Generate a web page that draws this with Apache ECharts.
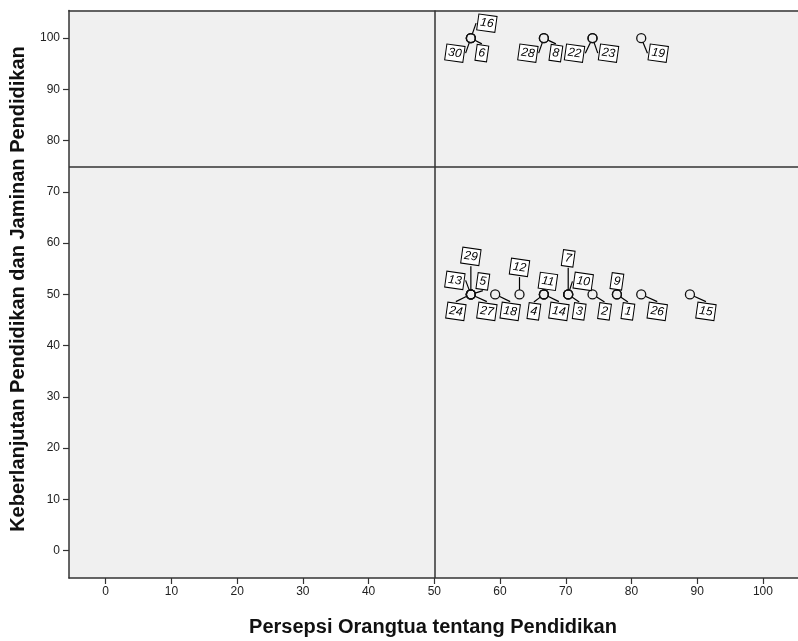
<!DOCTYPE html>
<html>
<head>
<meta charset="utf-8">
<script src="https://cdn.jsdelivr.net/npm/echarts@6/dist/echarts.min.js"></script>
<style>html,body{margin:0;padding:0;background:#fff}#c{width:798px;height:641px}</style>
</head>
<body>
<div id="c"></div>
<script>
// ---- data ----
var caseIds = [16, 30, 6, 28, 8, 22, 23, 19, 29, 13, 5, 24, 27, 18, 12, 11, 4, 14, 7, 10, 3, 2, 9, 1, 26, 15];
var persepsi = [55.56, 55.56, 55.56, 66.67, 66.67, 74.07, 74.07, 81.48,
                55.56, 55.56, 55.56, 55.56, 55.56, 59.26, 62.96, 66.67, 66.67, 66.67,
                70.37, 70.37, 70.37, 74.07, 77.78, 77.78, 81.48, 88.89];
var keberlanjutan = [100, 100, 100, 100, 100, 100, 100, 100,
                     50, 50, 50, 50, 50, 50, 50, 50, 50, 50,
                     50, 50, 50, 50, 50, 50, 50, 50];
var xTicks = [0, 10, 20, 30, 40, 50, 60, 70, 80, 90, 100];
var yTicks = [0, 10, 20, 30, 40, 50, 60, 70, 80, 90, 100];
var refLineX = [50];
var refLineY = [75];
var xTitle = 'Persepsi Orangtua tentang Pendidikan';
var yTitle = 'Keberlanjutan Pendidikan dan Jaminan Pendidikan';

// ---- label layout (pixel offsets of case labels from their point) ----
var labelDx = [16, -16, 11, -16, 12, -18, 16, 17,
               0, -16, 12, -15, 16, 15, 0, 4, -10, 15,
               0, 15, 11, 12, 0, 11, 16, 16];
var labelDy = [-15, 15, 15, 15, 15, 15, 15, 15,
               -38, -14, -13, 17, 17, 17, -27, -13, 17, 17,
               -36, -13, 17, 17, -13, 17, 17, 17];

var font = "'Liberation Sans', Arial, sans-serif";
var points = caseIds.map(function (id, i) {
  return { value: [persepsi[i], keberlanjutan[i]], name: String(id) };
});

var axisCol = '#333333';
var chart = echarts.init(document.getElementById('c'), null, { renderer: 'canvas' });
chart.setOption({
  backgroundColor: '#ffffff',
  animation: false,
  grid: {
    left: 69, top: 10.5, width: 733, height: 567.5,
    outerBoundsMode: 'none', containLabel: false,
    show: true, backgroundColor: '#f0f0f0', borderWidth: 0
  },
  xAxis: [{
    type: 'value', min: -5.58, max: 105.94,
    splitLine: { show: false },
    axisLine: { show: true, onZero: false, lineStyle: { color: axisCol, width: 1.5 } },
    axisTick: { show: true, customValues: xTicks, length: 6, lineStyle: { color: axisCol, width: 1.2 } },
    axisLabel: { customValues: xTicks, margin: 8, color: '#222222', fontSize: 12, fontFamily: font }
  }, {
    type: 'value', position: 'top', min: -5.58, max: 105.94,
    splitLine: { show: false },
    axisLine: { show: true, onZero: false, lineStyle: { color: axisCol, width: 1.5 } },
    axisTick: { show: false }, axisLabel: { show: false }
  }],
  yAxis: {
    type: 'value', min: -5.35, max: 105.4,
    splitLine: { show: false },
    axisLine: { show: true, onZero: false, lineStyle: { color: axisCol, width: 1.5 } },
    axisTick: { show: true, customValues: yTicks, length: 6, lineStyle: { color: axisCol, width: 1.2 } },
    axisLabel: { customValues: yTicks, margin: 9, color: '#222222', fontSize: 12, fontFamily: font }
  },
  graphic: [
    { type: 'text', x: 433, y: 627, style: { text: xTitle, font: 'bold 20px ' + font, fill: '#111', align: 'center', verticalAlign: 'middle' } },
    { type: 'text', x: 18, y: 289, rotation: Math.PI / 2, style: { text: yTitle, font: 'bold 20px ' + font, fill: '#111', align: 'center', verticalAlign: 'middle' } }
  ],
  series: [{
    type: 'scatter',
    xAxisIndex: 0,
    symbol: 'circle',
    symbolSize: 9,
    itemStyle: { color: 'rgba(0,0,0,0)', borderColor: '#111111', borderWidth: 1.3, opacity: 1 },
    data: points,
    label: {
      show: true,
      formatter: '{b}',
      fontSize: 12,
      fontStyle: 'italic',
      fontFamily: font,
      color: '#000',
      backgroundColor: '#ffffff',
      borderColor: '#000000',
      borderWidth: 1,
      padding: [2, 2, 1, 2],
      rotate: -8
    },
    labelLine: { show: true, lineStyle: { color: '#000000', width: 1.2 } },
    labelLayout: function (p) {
      var r = p.rect;
      var cx = r.x + r.width / 2, cy = r.y + r.height / 2;
      return { x: cx + labelDx[p.dataIndex], y: cy + labelDy[p.dataIndex], align: 'center', verticalAlign: 'middle' };
    },
    markLine: {
      silent: true,
      symbol: 'none',
      label: { show: false },
      lineStyle: { color: axisCol, width: 1.5, type: 'solid' },
      data: refLineX.map(function (v) { return { xAxis: v }; })
        .concat(refLineY.map(function (v) { return { yAxis: v }; }))
    },
    z: 3
  }]
});
</script>
</body>
</html>
